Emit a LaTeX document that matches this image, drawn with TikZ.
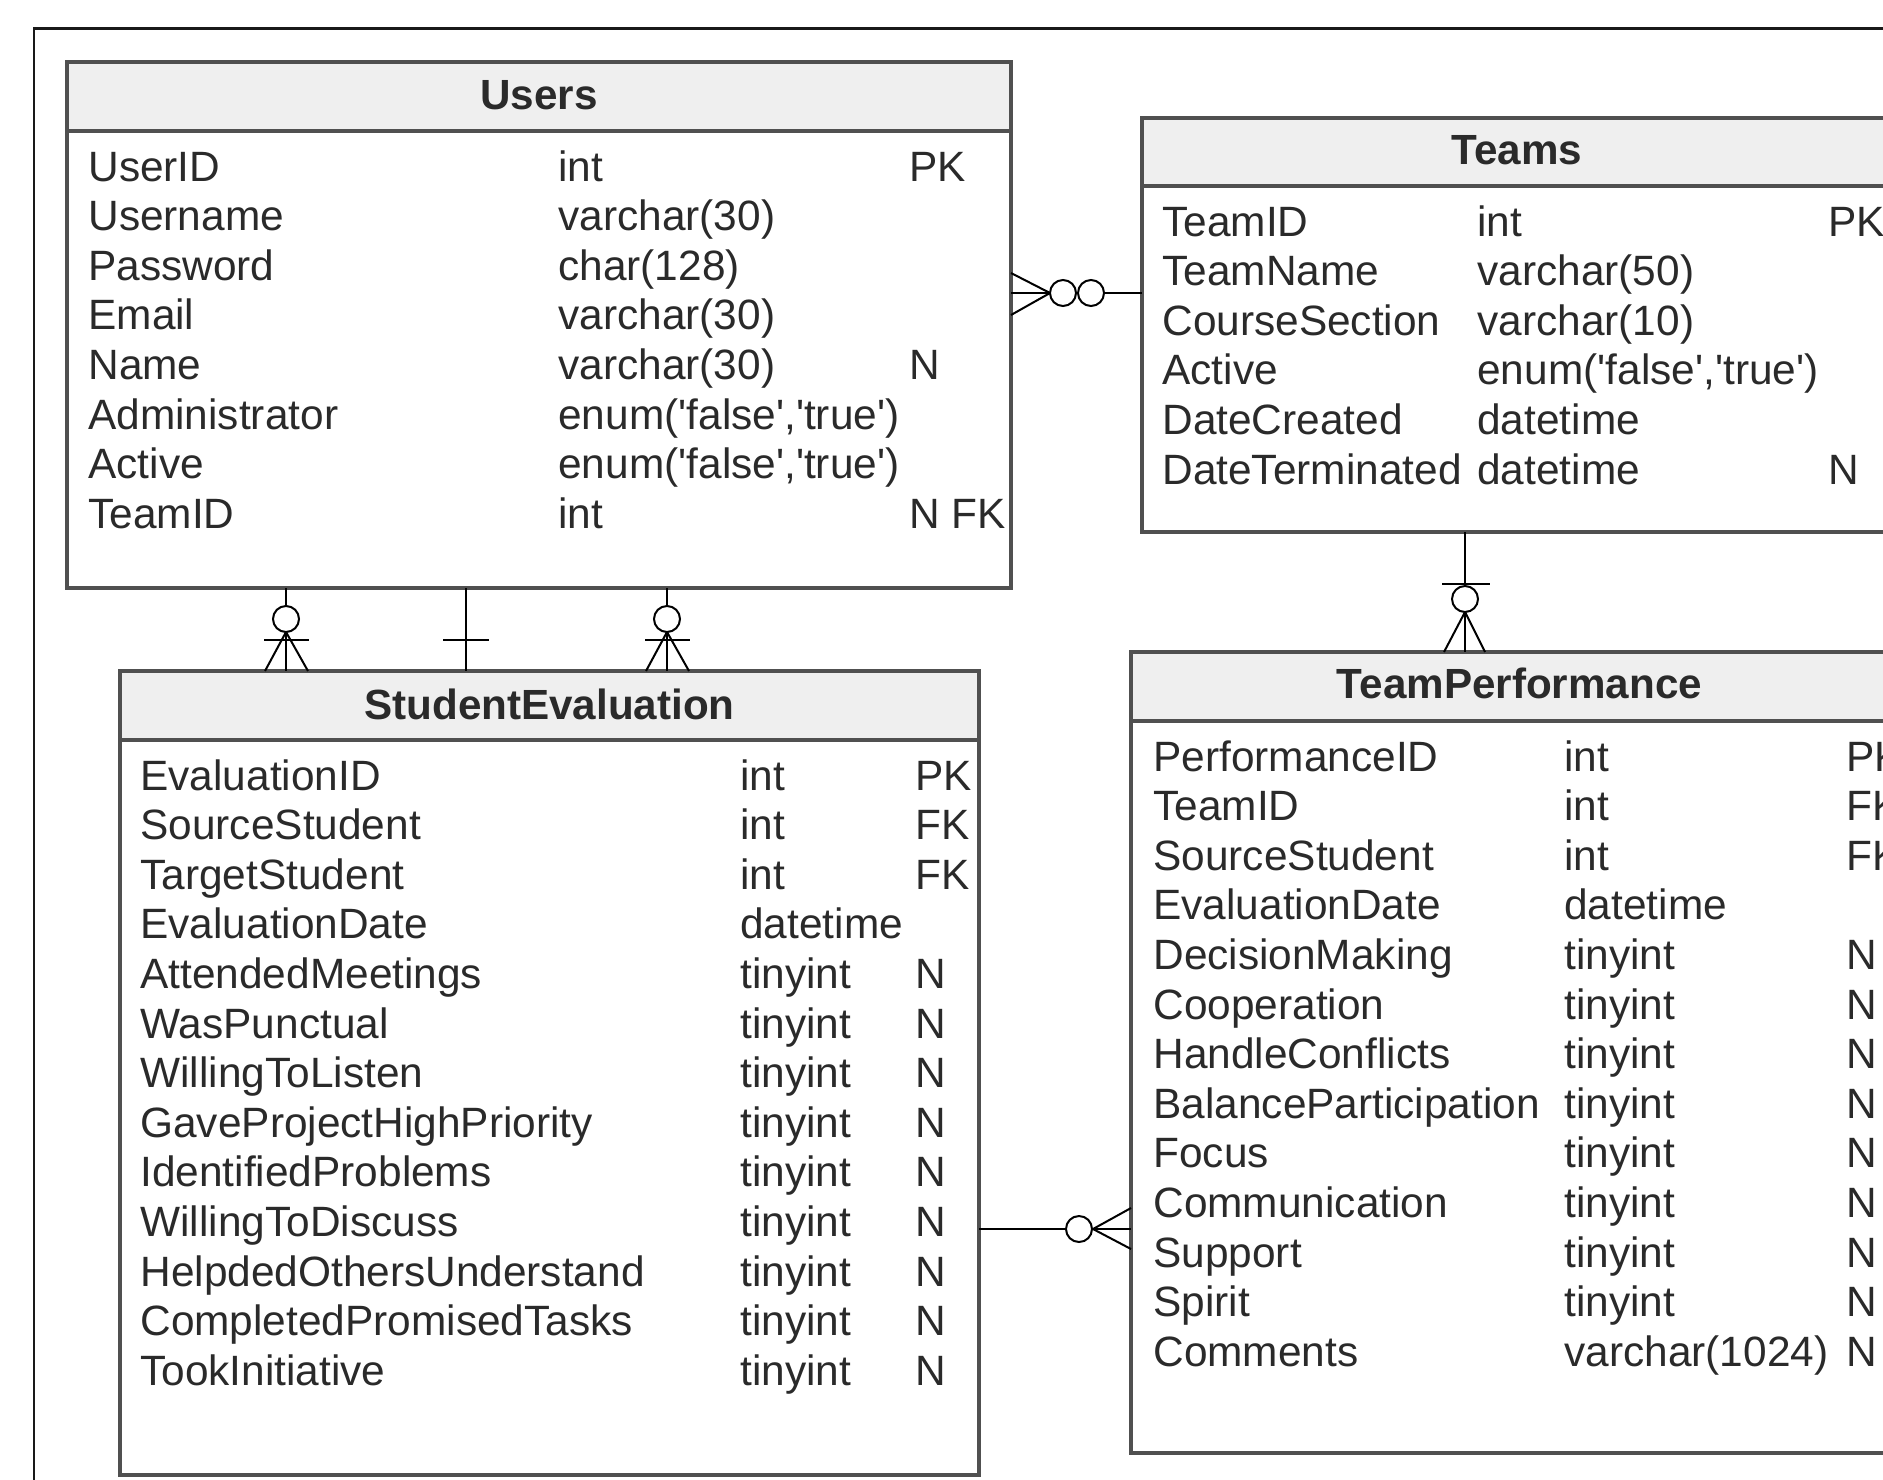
\documentclass[tikz,border=0pt]{standalone}
\usepackage{fontspec}
\setmainfont{Liberation Sans}
\usetikzlibrary{calc}
\definecolor{bordergray}{HTML}{505050}
\definecolor{hdrfill}{HTML}{EFEFEF}
\definecolor{txtgray}{HTML}{2A2A2A}
\newcommand{\enumft}{enum(\textquotesingle false\textquotesingle,\textquotesingle true\textquotesingle)}
\begin{document}
\begin{tikzpicture}[x=0.5pt,y=-0.5pt,
  tbl/.style={draw=bordergray, line width=1.75pt, inner sep=0pt, outer sep=0pt, anchor=north west, rectangle},
  hline/.style={draw=bordergray, line width=1.6pt},
  ttl/.style={anchor=base, inner sep=0pt, font=\fontsize{21.1pt}{25pt}\selectfont\bfseries, text=txtgray},
  cell/.style={anchor=base west, inner sep=0pt, font=\fontsize{21.2pt}{25pt}\selectfont, text=txtgray},
  rel/.style={line width=1pt, draw=black},
  ring/.style={draw=black, line width=1pt, fill=white, circle, inner sep=0pt, minimum size=13pt},
  frame/.style={line width=1.1pt, draw=black!90},
]
\useasboundingbox (0,0) rectangle (1883,1479);
\clip (0,0) rectangle (1883,1479);
\fill[white] (0,0) rectangle (1883,1479);

% outer frame
\draw[frame] (34,1500) -- (34,28.5) -- (1900,28.5);

% ---------- Users ----------
\fill[hdrfill] (67,62) rectangle (1011,131);
\node[tbl, minimum width=472pt, minimum height=263pt] (users) at (67,62) {};
\draw[hline] ($(users.north west)+(0,69)$) -- ($(users.north east)+(0,69)$);
\node[ttl] (users-t) at ($(users.north)+(0,47)$) {Users};
\foreach \a/\b/\c [count=\i from 0] in {UserID/int/PK, Username/varchar(30)/{}, Password/char(128)/{}, Email/varchar(30)/{}, Name/varchar(30)/N, Administrator/\enumft/{}, Active/\enumft/{}, TeamID/int/N FK}{
  \node[cell] (u-a\i) at (88,{181+\i*49.6}) {\a};
  \node[cell] (u-b\i) at (558,{181+\i*49.6}) {\b};
  \node[cell] (u-c\i) at (909,{181+\i*49.6}) {\c};
}

% ---------- Teams ----------
\fill[hdrfill] (1142,118) rectangle (1892,186);
\node[tbl, minimum width=375pt, minimum height=207pt] (teams) at (1142,118) {};
\draw[hline] ($(teams.north west)+(0,68)$) -- ($(teams.north east)+(0,68)$);
\node[ttl] (teams-t) at ($(teams.north)+(0,46)$) {Teams};
\foreach \a/\b/\c [count=\i from 0] in {TeamID/int/PK, TeamName/varchar(50)/{}, CourseSection/varchar(10)/{}, Active/\enumft/{}, DateCreated/datetime/{}, DateTerminated/datetime/N}{
  \node[cell] (t-a\i) at (1162,{236+\i*49.6}) {\a};
  \node[cell] (t-b\i) at (1477,{236+\i*49.6}) {\b};
  \node[cell] (t-c\i) at (1828,{236+\i*49.6}) {\c};
}

% ---------- StudentEvaluation ----------
\fill[hdrfill] (120,671) rectangle (979,740);
\node[tbl, minimum width=429.5pt, minimum height=402pt] (se) at (120,671) {};
\draw[hline] ($(se.north west)+(0,69)$) -- ($(se.north east)+(0,69)$);
\node[ttl] (se-t) at ($(se.north)+(0,48)$) {StudentEvaluation};
\foreach \a/\b/\c [count=\i from 0] in {EvaluationID/int/PK, SourceStudent/int/FK, TargetStudent/int/FK, EvaluationDate/datetime/{}, AttendedMeetings/tinyint/N, WasPunctual/tinyint/N, WillingToListen/tinyint/N, GaveProjectHighPriority/tinyint/N, IdentifiedProblems/tinyint/N, WillingToDiscuss/tinyint/N, HelpdedOthersUnderstand/tinyint/N, CompletedPromisedTasks/tinyint/N, TookInitiative/tinyint/N}{
  \node[cell] (s-a\i) at (140,{790+\i*49.6}) {\a};
  \node[cell] (s-b\i) at (740,{790+\i*49.6}) {\b};
  \node[cell] (s-c\i) at (915,{790+\i*49.6}) {\c};
}

% ---------- TeamPerformance ----------
\fill[hdrfill] (1131,652) rectangle (1908,721);
\node[tbl, minimum width=388.5pt, minimum height=400.5pt] (tp) at (1131,652) {};
\draw[hline] ($(tp.north west)+(0,69)$) -- ($(tp.north east)+(0,69)$);
\node[ttl] (tp-t) at ($(tp.north)+(0,46.5)$) {TeamPerformance};
\foreach \a/\b/\c [count=\i from 0] in {PerformanceID/int/PK, TeamID/int/FK, SourceStudent/int/FK, EvaluationDate/datetime/{}, DecisionMaking/tinyint/N, Cooperation/tinyint/N, HandleConflicts/tinyint/N, BalanceParticipation/tinyint/N, Focus/tinyint/N, Communication/tinyint/N, Support/tinyint/N, Spirit/tinyint/N, Comments/varchar(1024)/N}{
  \node[cell] (p-a\i) at (1153,{771+\i*49.6}) {\a};
  \node[cell] (p-b\i) at (1564,{771+\i*49.6}) {\b};
  \node[cell] (p-c\i) at (1846,{771+\i*49.6}) {\c};
}

% ---------- Users -- Teams ----------
\coordinate (ua) at (users.east |- 0,293);
\coordinate (ta) at (teams.west |- 0,293);
\draw[rel] (ua) -- (ta);
\draw[rel] ($(ua)+(0,-20)$) -- ($(ua)+(39,0)$) -- ($(ua)+(0,22)$);
\node[ring] (ra1) at (1063,293) {};
\node[ring] (ra2) at (1091,293) {};

% ---------- Users -- StudentEvaluation (1) ----------
\coordinate (us1) at (users.south -| 286,0);
\coordinate (se1) at (se.north -| 286,0);
\draw[rel] (us1) -- (se1);
\draw[rel] (264,640) -- (309,640);
\draw[rel] ($(se1)+(-21,0)$) -- (286,632) -- ($(se1)+(22,0)$);
\node[ring] (rb1) at (286,619) {};

% ---------- Users -- StudentEvaluation (2) ----------
\coordinate (us2) at (users.south -| 466,0);
\coordinate (se2) at (se.north -| 466,0);
\draw[rel] (us2) -- (se2);
\draw[rel] (443,640) -- (489,640);

% ---------- Users -- StudentEvaluation (3) ----------
\coordinate (us3) at (users.south -| 667,0);
\coordinate (se3) at (se.north -| 667,0);
\draw[rel] (us3) -- (se3);
\draw[rel] (645,640) -- (690,640);
\draw[rel] ($(se3)+(-21,0)$) -- (667,632) -- ($(se3)+(22,0)$);
\node[ring] (rb3) at (667,619) {};

% ---------- Teams -- TeamPerformance ----------
\coordinate (tb) at (teams.south -| 1465,0);
\coordinate (pb) at (tp.north -| 1465,0);
\draw[rel] (tb) -- (pb);
\draw[rel] (1442,584) -- (1490,584);
\draw[rel] ($(pb)+(-21,0)$) -- (1465,612) -- ($(pb)+(20,0)$);
\node[ring] (rc) at (1465,599) {};

% ---------- StudentEvaluation -- TeamPerformance ----------
\coordinate (sd) at (se.east |- 0,1229);
\coordinate (pd) at (tp.west |- 0,1229);
\draw[rel] (sd) -- (pd);
\draw[rel] ($(pd)+(0,-21)$) -- (1093,1229) -- ($(pd)+(0,20)$);
\node[ring] (rd) at (1079,1229) {};
\end{tikzpicture}
\end{document}
